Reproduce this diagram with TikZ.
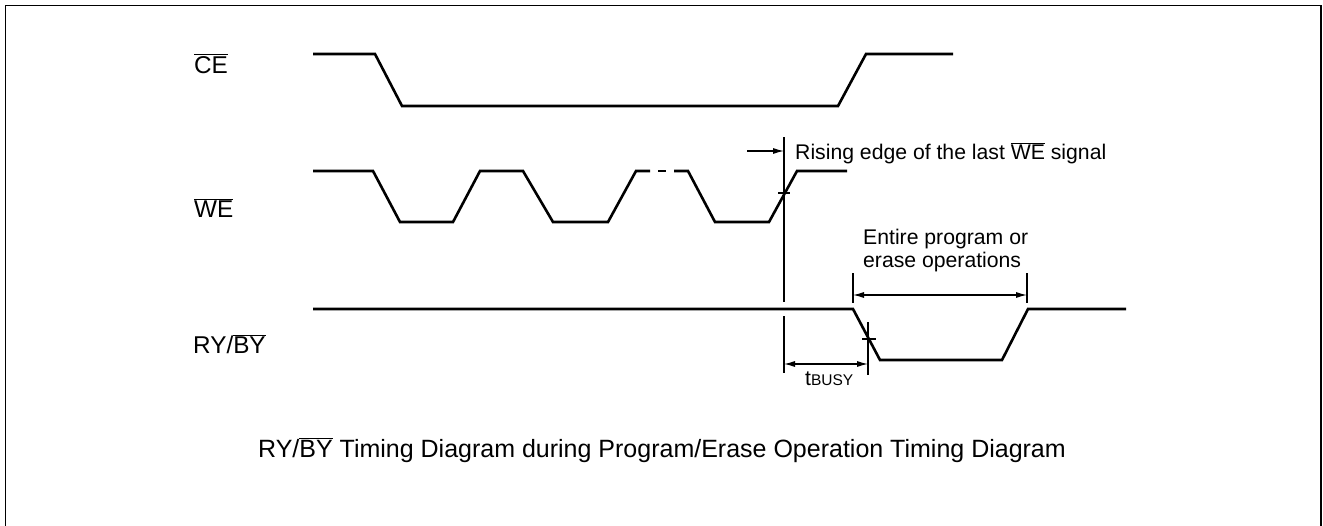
\documentclass[tikz,border=0pt]{standalone}
\usepackage{fontspec}
\setmainfont{Liberation Sans}
\usetikzlibrary{arrows.meta}
\newcommand\ovl[1]{$\overline{\mbox{#1}}$}
\begin{document}
\begin{tikzpicture}[x=1pt,y=-1pt,
  sig/.style={line width=2.6pt,line join=miter},
  thin/.style={line width=1.1pt},
  dim/.style={line width=1.1pt,{Latex[length=11pt,width=6pt]}-{Latex[length=11pt,width=6pt]}},
  onearr/.style={line width=1.1pt,-{Latex[length=11pt,width=6pt]}},
  lab/.style={font=\fontsize{24.3}{27}\selectfont,inner sep=0pt,anchor=base west},
  txt/.style={font=\fontsize{21.2}{24}\selectfont,inner sep=0pt}]
\useasboundingbox (0,0) rectangle (1323,525);
% frame
\draw[line width=1.8pt] (5.5,540) -- (5.5,5.5) -- (1321,5.5) -- (1321,540);
% CE
\draw[sig] (313,54) -- (375,54) -- (402,106) -- (838,106) -- (866,54) -- (953,54);
% WE
\draw[sig] (313,171) -- (373,171) -- (400,222) -- (453,222) -- (480,171) -- (523,171) -- (553,222) -- (608,222) -- (636,171) -- (650,171);
\draw[sig] (658,171) -- (666,171);
\draw[sig] (674,171) -- (688,171) -- (715,222) -- (769,222) -- (797,171) -- (847,171);
% RY/BY
\draw[sig] (313,309) -- (853,309) -- (880,360) -- (1002,360) -- (1028,309) -- (1126,309);
% labels
\node[lab] (ce) at (194,73) {\ovl{CE}};
\node[lab] (we) at (194,217) {\ovl{WE}};
\node[lab] (ry) at (193,353) {RY/\ovl{BY}};
% vertical line at last WE rising edge
\coordinate (v1) at (784,137);
\coordinate (v2) at (784,302);
\coordinate (v3) at (784,316);
\coordinate (v4) at (784,373);
\draw[thin] (v1) -- (v2);
\draw[thin] (v3) -- (v4);
\draw[thin] (778,193) -- (790,193);
\coordinate (a0) at (747,151);
\coordinate (a1) at (784,151);
\draw[onearr] (a0) -- (a1);
\node[txt,anchor=base west] (rise) at (795,159) {Rising edge of the last \ovl{WE} signal};
% entire program
\coordinate (e1t) at (853,273); \coordinate (e1b) at (853,303);
\coordinate (e2t) at (1027,273); \coordinate (e2b) at (1027,303);
\draw[thin] (e1t) -- (e1b);
\draw[thin] (e2t) -- (e2b);
\draw[dim] (853,295) -- (1027,295);
\node[txt,align=left,anchor=base west] (ent) at (863,267) {Entire program or\\[-1pt]erase operations};
% tBUSY
\coordinate (b1t) at (868,322); \coordinate (b1b) at (868,375);
\draw[thin] (b1t) -- (b1b);
\draw[thin] (862,339) -- (876,339);
\draw[dim] (784,364) -- (868,364);
\node[txt,anchor=base west] (tb) at (805,385) {t{\fontsize{15.5}{17}\selectfont BUSY}};
% caption
\node[txt,anchor=base,font=\fontsize{25}{28}\selectfont] (cap) at (662,457) {RY/\ovl{BY} Timing Diagram during Program/Erase Operation Timing Diagram};
\end{tikzpicture}
\end{document}
